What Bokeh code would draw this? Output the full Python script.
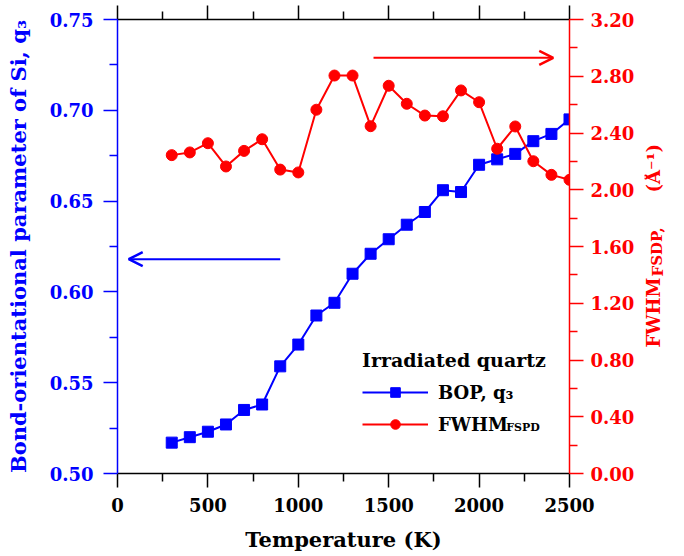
from bokeh.plotting import figure
from bokeh.layouts import row
from bokeh.models import (Range1d, LinearAxis, FixedTicker, Arrow, OpenHead, Label,
                          Legend, LegendItem, PrintfTickFormatter)
from bokeh.embed import file_html
from bokeh.resources import INLINE

# ---- data ----
temperature = [300, 400, 500, 600, 700, 800, 900, 1000, 1100, 1200, 1300, 1400,
               1500, 1600, 1700, 1800, 1900, 2000, 2100, 2200, 2300, 2400, 2500]
bop_q3 = [0.517, 0.520, 0.523, 0.527, 0.535, 0.538, 0.559, 0.571, 0.587, 0.594,
          0.610, 0.621, 0.629, 0.637, 0.644, 0.656, 0.655, 0.670, 0.673, 0.676,
          0.683, 0.687, 0.695]
fwhm_fsdp = [2.244, 2.263, 2.328, 2.164, 2.274, 2.356, 2.142, 2.122, 2.564, 2.805,
             2.805, 2.448, 2.733, 2.606, 2.523, 2.518, 2.700, 2.617, 2.289, 2.446,
             2.201, 2.105, 2.070]

x_major = [0, 500, 1000, 1500, 2000, 2500]
x_minor = [250, 750, 1250, 1750, 2250]
left_major = [0.50, 0.55, 0.60, 0.65, 0.70, 0.75]
left_minor = [0.525, 0.575, 0.625, 0.675, 0.725]
right_major = [0.0, 0.4, 0.8, 1.2, 1.6, 2.0, 2.4, 2.8, 3.2]
right_minor = [0.2, 0.6, 1.0, 1.4, 1.8, 2.2, 2.6, 3.0]

FONT = "DejaVu Serif"
BLUE = "#0000ff"
RED = "#ff0000"
BLACK = "#000000"

TOP, BOTTOM = 19, 83

p = figure(width=644, height=556, output_backend="svg", toolbar_location=None,
           x_range=Range1d(0, 2500), y_range=Range1d(0.5, 0.75),
           min_border_left=117, min_border_right=75, min_border_top=TOP,
           min_border_bottom=BOTTOM)
p.outline_line_color = None
p.grid.visible = False
p.background_fill_color = "white"
p.border_fill_color = "white"
p.extra_y_ranges = {"fwhm": Range1d(0, 3.2)}


def style_axis(ax, color, tick_font="18px"):
    ax.axis_line_color = color
    ax.axis_line_width = 1.5
    ax.major_tick_line_color = color
    ax.minor_tick_line_color = color
    ax.major_tick_line_width = 1.5
    ax.minor_tick_line_width = 1.5
    ax.major_tick_in = 0
    ax.minor_tick_in = 0
    ax.major_tick_out = 14
    ax.minor_tick_out = 8
    ax.major_label_text_color = color
    ax.major_label_text_font = FONT
    ax.major_label_text_font_style = "bold"
    ax.major_label_text_font_size = tick_font
    ax.axis_label_text_color = color
    ax.axis_label_text_font = FONT
    ax.axis_label_text_font_style = "bold"
    ax.axis_label_text_font_size = "21px"


# bottom axis
xax = p.xaxis[0]
xax.ticker = FixedTicker(ticks=x_major, minor_ticks=x_minor)
style_axis(xax, BLACK)
xax.axis_label = "Temperature (K)"
xax.major_label_standoff = 10
xax.axis_label_standoff = 12

# left axis
yax = p.yaxis[0]
yax.ticker = FixedTicker(ticks=left_major, minor_ticks=left_minor)
yax.formatter = PrintfTickFormatter(format="%.2f")
style_axis(yax, BLUE)
yax.axis_label = "Bond-orientational parameter of Si, q\u2083"
yax.major_label_standoff = 10
yax.axis_label_standoff = 16

# right axis
rax = LinearAxis(y_range_name="fwhm",
                 ticker=FixedTicker(ticks=right_major, minor_ticks=right_minor),
                 formatter=PrintfTickFormatter(format="%.2f"))
style_axis(rax, RED)
rax.major_label_standoff = 7
p.add_layout(rax, "right")

# top axis (ticks only)
tax = LinearAxis(ticker=FixedTicker(ticks=x_major, minor_ticks=x_minor))
style_axis(tax, BLACK, tick_font="1px")
tax.major_label_standoff = 0
tax.major_label_overrides = {t: "" for t in x_major}
p.add_layout(tax, "above")

# series
bl = p.line(temperature, bop_q3, line_color=BLUE, line_width=2)
bs = p.scatter(temperature, bop_q3, marker="square", size=11, fill_color=BLUE,
               line_color=BLUE)
rl = p.line(temperature, fwhm_fsdp, line_color=RED, line_width=2, y_range_name="fwhm")
rs = p.scatter(temperature, fwhm_fsdp, marker="circle", size=11, fill_color=RED,
               line_color=RED, y_range_name="fwhm")

# arrows
p.add_layout(Arrow(end=OpenHead(line_color=BLUE, line_width=2.5, size=14),
                   x_start=900, y_start=0.618, x_end=62, y_end=0.618,
                   line_color=BLUE, line_width=2))
p.add_layout(Arrow(end=OpenHead(line_color=RED, line_width=2.5, size=14),
                   x_start=1416, y_start=2.93, x_end=2410, y_end=2.93,
                   line_color=RED, line_width=2, y_range_name="fwhm"))

# legend
legend = Legend(items=[LegendItem(label="BOP, q\u2083", renderers=[bl, bs]),
                       LegendItem(label="FWHM", renderers=[rl, rs])],
                location=(245, 37), title="Irradiated quartz")
legend.title_text_font = FONT
legend.title_text_font_style = "bold"
legend.title_text_font_size = "19px"
legend.title_text_color = BLACK
legend.title_standoff = 9
legend.label_text_font = FONT
legend.label_text_font_style = "bold"
legend.label_text_font_size = "18px"
legend.label_text_color = BLACK
legend.glyph_width = 66
legend.glyph_height = 24
legend.label_height = 24
legend.label_standoff = 10
legend.spacing = 8
legend.padding = 0
legend.margin = 0
legend.border_line_color = None
legend.background_fill_alpha = 0
p.add_layout(legend)

# subscript in legend label
p.add_layout(Label(x=2150, y=0.5254, text="FSPD", text_font=FONT, text_font_style="bold",
                   text_font_size="11px", text_color=BLACK, text_baseline="alphabetic",
                   text_align="left"))

# right axis title, built from pieces in a narrow side panel
p2 = figure(width=40, height=556, output_backend="svg", toolbar_location=None,
            x_range=Range1d(0, 40), y_range=Range1d(0, 3.2),
            x_axis_type=None, y_axis_type=None,
            min_border_left=0, min_border_right=0, min_border_top=TOP,
            min_border_bottom=BOTTOM)
p2.outline_line_color = None
p2.grid.visible = False
p2.background_fill_color = "white"
p2.border_fill_color = "white"

common = dict(angle=1.5708, text_font=FONT, text_font_style="bold", text_color=RED,
              text_baseline="alphabetic", text_align="left")
p2.add_layout(Label(x=9, y=0.888, text="FWHM", text_font_size="18px", **common))
p2.add_layout(Label(x=13, y=1.389, text="FSDP,", text_font_size="15px", **common))
p2.add_layout(Label(x=9, y=1.981, text="(\u00c5\u207b\u00b9)", text_font_size="18px", **common))

layout = row(p, p2)
open("out.html", "w").write(file_html(layout, INLINE))
